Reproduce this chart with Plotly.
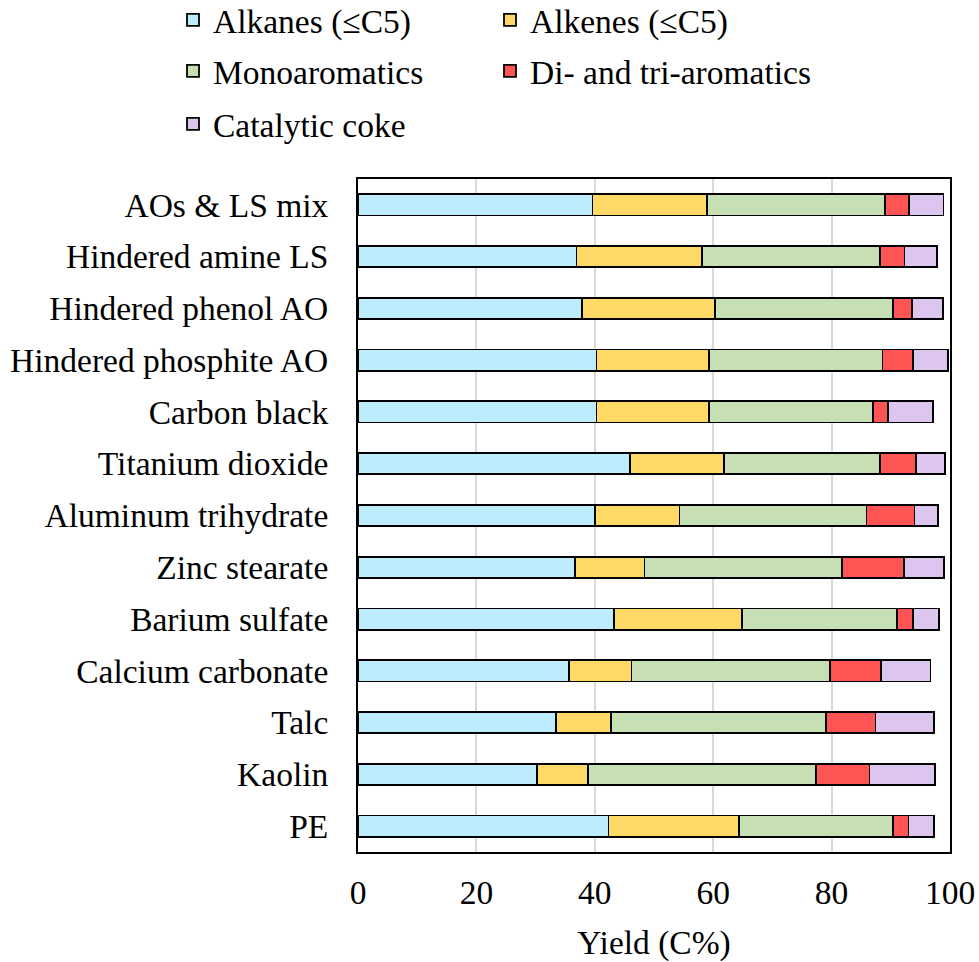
import plotly.graph_objects as go

categories = [
    "AOs & LS mix", "Hindered amine LS", "Hindered phenol AO", "Hindered phosphite AO",
    "Carbon black", "Titanium dioxide", "Aluminum trihydrate", "Zinc stearate",
    "Barium sulfate", "Calcium carbonate", "Talc", "Kaolin", "PE",
]

alkanes = [39.6, 36.9, 37.9, 40.3, 40.3, 46.0, 40.0, 36.7, 43.3, 35.6, 33.4, 30.3, 42.3]
alkenes = [19.3, 21.2, 22.4, 19.0, 19.0, 15.8, 14.3, 11.7, 21.6, 10.6, 9.3, 8.5, 22.0]
monoaromatics = [30.1, 30.1, 30.1, 29.3, 27.7, 26.4, 31.6, 33.4, 26.2, 33.5, 36.4, 38.6, 26.1]
di_tri_aromatics = [4.1, 4.1, 3.2, 5.1, 2.5, 6.1, 8.1, 10.4, 2.7, 8.7, 8.3, 9.0, 2.6]
catalytic_coke = [5.8, 5.5, 5.2, 6.0, 7.6, 4.9, 4.0, 6.8, 4.3, 8.3, 9.9, 11.1, 4.3]

series_names = ["Alkanes (≤C5)", "Alkenes (≤C5)", "Monoaromatics",
                "Di- and tri-aromatics", "Catalytic coke"]
series_values = [alkanes, alkenes, monoaromatics, di_tri_aromatics, catalytic_coke]
colors = ["#BDEDFD", "#FFD966", "#C6E0B4", "#FF5454", "#DCC5EE"]
legend_ids = ["legend", "legend2", "legend3", "legend4", "legend5"]

FONT = "Liberation Serif"
FS = 33.5

fig = go.Figure()
for name, vals, col, lg in zip(series_names, series_values, colors, legend_ids):
    fig.add_trace(go.Bar(
        y=categories, x=vals, name=name, orientation="h",
        marker=dict(color=col, line=dict(color="black", width=1.8)),
        legend=lg,
    ))

W, H = 979, 962
# plot area in pixels
PL, PR, PT, PB = 358, 950, 179, 852
ml, mr, mt, mb = PL, W - PR, PT, H - PB
pw = PR - PL
ph = PB - PT

def lx(px):
    return (px - PL) / pw

def ly(py):
    return (PB - py) / ph

leg_common = dict(
    orientation="h", xanchor="left", yanchor="middle",
    font=dict(family=FONT, size=FS, color="black"),
    bgcolor="rgba(0,0,0,0)",
)

col1, col2 = 173, 490
row1, row2, row3 = 20, 71, 124

fig.update_layout(
    width=W, height=H,
    margin=dict(l=ml, r=mr, t=mt, b=mb, autoexpand=False),
    barmode="stack", bargap=0.59,
    plot_bgcolor="white", paper_bgcolor="white",
    font=dict(family=FONT, size=FS, color="black"),
    showlegend=True,
    legend=dict(x=lx(col1), y=ly(row1), **leg_common),
    legend2=dict(x=lx(col2), y=ly(row1), **leg_common),
    legend3=dict(x=lx(col1), y=ly(row2), **leg_common),
    legend4=dict(x=lx(col2), y=ly(row2), **leg_common),
    legend5=dict(x=lx(col1), y=ly(row3), **leg_common),
)

fig.update_xaxes(
    range=[0, 100], tickvals=[0, 20, 40, 60, 80, 100],
    showgrid=True, gridcolor="#D9D9D9", gridwidth=1.5,
    showline=True, linecolor="black", linewidth=2, mirror=True,
    ticks="", ticklabelstandoff=10, ticklabeloverflow="allow",
    tickfont=dict(family=FONT, size=FS, color="black"),
    title=dict(text="Yield (C%)", font=dict(family=FONT, size=FS, color="black"), standoff=20),
    zeroline=False,
)
fig.update_yaxes(
    categoryorder="array", categoryarray=categories, autorange="reversed",
    showline=True, linecolor="black", linewidth=2, mirror=True,
    ticks="", ticklabelstandoff=21,
    tickfont=dict(family=FONT, size=FS, color="black"),
    showgrid=False,
)

fig.write_html(
    "out.html",
    config={"displayModeBar": False},
    post_script="document.body.style.margin='0';document.body.style.overflow='hidden';",
)
